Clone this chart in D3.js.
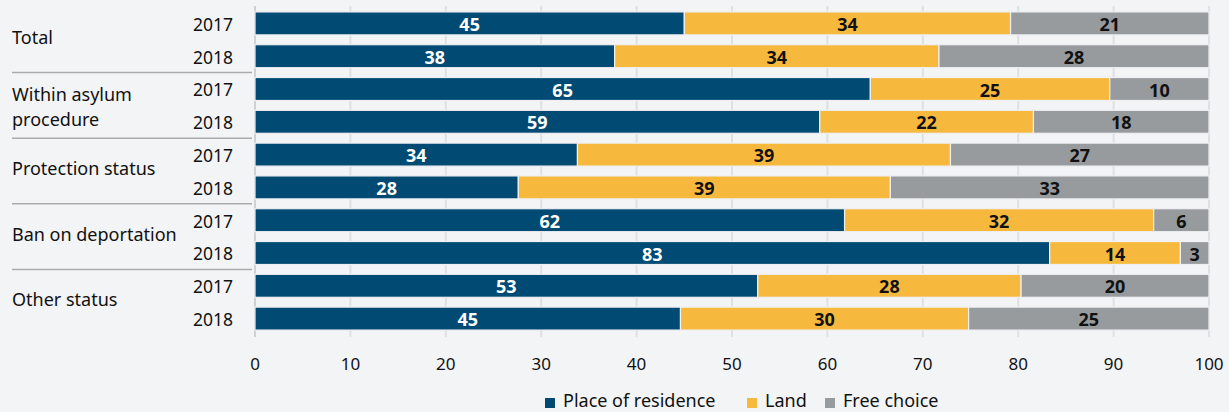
<!DOCTYPE html>
<html><head><meta charset="utf-8">
<script src="https://cdn.jsdelivr.net/npm/d3@7"></script>
<style>
html,body{margin:0;padding:0;background:#f3f4f6;}
svg{display:block;font-family:"Noto Sans",sans-serif;}
</style></head><body>
<svg id="c" width="1229" height="412"></svg>
<script>
const groups = ["Total", "Within asylum procedure", "Protection status", "Ban on deportation", "Other status"];
const groupLines = [["Total"], ["Within asylum", "procedure"], ["Protection status"], ["Ban on deportation"], ["Other status"]];
const years = ["2017", "2018"];
const seriesNames = ["Place of residence", "Land", "Free choice"];
const colors = ["#004a73", "#f7b93d", "#979b9d"];
const labelColors = ["#ffffff", "#111111", "#111111"];
// values per row (group x year), in order of groups then years
const placeOfResidence = [45.0, 37.7, 64.5, 59.2, 33.8, 27.6, 61.8, 83.3, 52.7, 44.6];
const land             = [34.2, 34.0, 25.1, 22.4, 39.1, 39.0, 32.4, 13.7, 27.6, 30.2];
const freeChoice       = [20.8, 28.3, 10.4, 18.4, 27.1, 33.4,  5.8,  3.0, 19.7, 25.2];
const xTicks = [0, 10, 20, 30, 40, 50, 60, 70, 80, 90, 100];

const rows = [];
groups.forEach((g, gi) => years.forEach((y, yi) => rows.push({key: g + "|" + y, group: g, gi, year: y})));
rows.forEach((r, i) => { r.vals = [placeOfResidence[i], land[i], freeChoice[i]]; });

const svg = d3.select("#c");
const x = d3.scaleLinear().domain([0, 100]).range([255, 1209]);
const y = d3.scaleBand().domain(rows.map(r => r.key)).range([7, 335]).paddingInner(0.3).paddingOuter(0.15);

// gridlines
svg.append("g").selectAll("line").data(xTicks).join("line")
  .attr("x1", d => x(d)).attr("x2", d => x(d)).attr("y1", 6).attr("y2", 337)
  .attr("stroke", d => d === 0 ? "#d0d1d3" : "#dfe0e2").attr("stroke-width", 2);

// group separators
const sepY = [];
for (let gi = 1; gi < groups.length; gi++) {
  const prev = rows.filter(r => r.gi === gi - 1).pop();
  const next = rows.find(r => r.gi === gi);
  sepY.push((y(prev.key) + y.bandwidth() + y(next.key)) / 2);
}
svg.append("g").selectAll("line").data(sepY).join("line")
  .attr("x1", 12).attr("x2", 252).attr("y1", d => d).attr("y2", d => d)
  .attr("stroke", "#a9abad").attr("stroke-width", 1.5);

// bars
const stackData = rows.map(r => {
  let acc = 0;
  return r.vals.map((v, si) => { const s = {row: r, si, v, x0: acc, x1: acc + v}; acc += v; return s; });
});
const rowG = svg.append("g").selectAll("g").data(stackData).join("g");
rowG.selectAll("rect").data(d => d).join("rect")
  .attr("x", d => x(d.x0)).attr("width", d => x(d.x1) - x(d.x0))
  .attr("y", d => y(d.row.key)).attr("height", y.bandwidth())
  .attr("fill", d => colors[d.si]).attr("stroke", "#eef0f3").attr("stroke-width", 1.2);
rowG.selectAll("text").data(d => d).join("text")
  .attr("x", d => x((d.x0 + d.x1) / 2)).attr("y", d => y(d.row.key) + y.bandwidth() / 2)
  .attr("dy", "0.42em").attr("text-anchor", "middle")
  .attr("font-size", 18).attr("font-weight", "bold")
  .attr("fill", d => labelColors[d.si])
  .text(d => Math.round(d.v));

// year labels
svg.append("g").selectAll("text").data(rows).join("text")
  .attr("x", 233).attr("y", r => y(r.key) + y.bandwidth() / 2).attr("dy", "0.42em")
  .attr("text-anchor", "end").attr("font-size", 17.5).attr("fill", "#111").text(r => r.year);

// group labels
const gl = svg.append("g").selectAll("text").data(groups).join("text")
  .attr("x", 12).attr("font-size", 18).attr("fill", "#111")
  .attr("transform", (g, gi) => {
    const rs = rows.filter(r => r.gi === gi);
    const cy = (y(rs[0].key) + y(rs[rs.length - 1].key) + y.bandwidth()) / 2;
    return `translate(0,${cy})`;
  });
gl.each(function(g, gi) {
  const lines = groupLines[gi];
  const lh = 25;
  const shift = lines.length > 1 ? 8 : 4;
  d3.select(this).selectAll("tspan").data(lines).join("tspan")
    .attr("x", 12).attr("y", (l, li) => shift + (li - (lines.length - 1) / 2) * lh).text(l => l);
});

// x axis labels
svg.append("g").selectAll("text").data(xTicks).join("text")
  .attr("x", d => x(d)).attr("y", 370).attr("text-anchor", "middle")
  .attr("font-size", 17).attr("fill", "#111").text(d => d);

// legend
const legendX = [545, 747, 825];
const lg = svg.append("g").selectAll("g").data(seriesNames).join("g")
  .attr("transform", (d, i) => `translate(${legendX[i]},407)`);
lg.append("rect").attr("x", 0).attr("y", -9).attr("width", 10).attr("height", 10).attr("fill", (d, i) => colors[i]);
lg.append("text").attr("x", 18).attr("y", 0).attr("font-size", 18).attr("fill", "#111").text(d => d);
</script>
</body></html>
